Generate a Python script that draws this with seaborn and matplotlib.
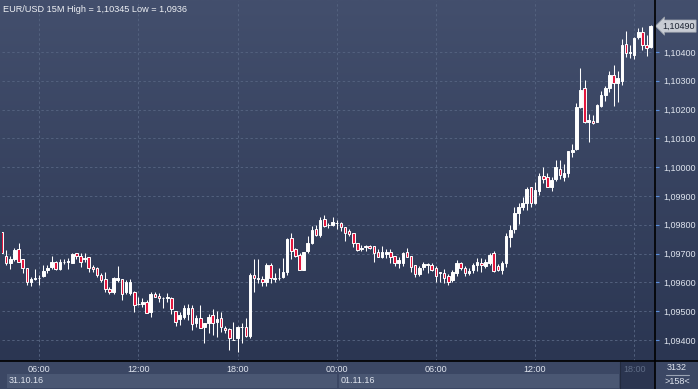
import numpy as np
import pandas as pd
import matplotlib
matplotlib.use("Agg")
import matplotlib.pyplot as plt
import matplotlib.transforms as mtransforms
from matplotlib.colors import LinearSegmentedColormap
from matplotlib.patches import Rectangle
from matplotlib.lines import Line2D
from matplotlib.ticker import FuncFormatter
import seaborn as sns

# ---------------- data (EUR/USD, 15 minute candles) ----------------
start_time = "2016-10-31 03:45"

open_ = [1.09776, 1.09692, 1.09669, 1.09680, 1.09715, 1.09680, 1.09649, 1.09603, 1.09611, 1.09614,
         1.09622, 1.09643, 1.09655, 1.09670, 1.09645, 1.09670, 1.09670, 1.09669, 1.09701, 1.09692,
         1.09680, 1.09689, 1.09655, 1.09649, 1.09626, 1.09611, 1.09576, 1.09565, 1.09608, 1.09611,
         1.09565, 1.09562, 1.09568, 1.09524, 1.09525, 1.09533, 1.09498, 1.09559, 1.09553, 1.09545,
         1.09545, 1.09545, 1.09502, 1.09472, 1.09479, 1.09490, 1.09510, 1.09460, 1.09475, 1.09444,
         1.09460, 1.09487, 1.09464, 1.09475, 1.09441, 1.09437, 1.09400, 1.09406, 1.09444, 1.09444,
         1.09414, 1.09626, 1.09611, 1.09611, 1.09603, 1.09660, 1.09611, 1.09614, 1.09620, 1.09637,
         1.09753, 1.09715, 1.09695, 1.09643, 1.09710, 1.09738, 1.09784, 1.09765, 1.09819, 1.09798,
         1.09799, 1.09807, 1.09805, 1.09791, 1.09780, 1.09770, 1.09738, 1.09715, 1.09724, 1.09728,
         1.09726, 1.09707, 1.09689, 1.09699, 1.09707, 1.09692, 1.09669, 1.09669, 1.09707, 1.09692,
         1.09660, 1.09629, 1.09655, 1.09660, 1.09660, 1.09649, 1.09634, 1.09634, 1.09622, 1.09608,
         1.09634, 1.09669, 1.09649, 1.09631, 1.09643, 1.09660, 1.09669, 1.09657, 1.09669, 1.09703,
         1.09657, 1.09643, 1.09669, 1.09759, 1.09784, 1.09842, 1.09863, 1.09877, 1.09930, 1.09875,
         1.09919, 1.09969, 1.09965, 1.09933, 1.09958, 1.09993, 1.09967, 1.09979, 1.10054, 1.10062,
         1.10208, 1.10274, 1.10158, 1.10162, 1.10158, 1.10213, 1.10251, 1.10274, 1.10320, 1.10294,
         1.10300, 1.10428, 1.10395, 1.10390, 1.10453, 1.10471, 1.10424, 1.10416]

high = [1.09776, 1.09713, 1.09692, 1.09718, 1.09738, 1.09680, 1.09649, 1.09620, 1.09645, 1.09626,
        1.09660, 1.09660, 1.09690, 1.09676, 1.09680, 1.09680, 1.09684, 1.09703, 1.09701, 1.09703,
        1.09701, 1.09689, 1.09660, 1.09652, 1.09634, 1.09637, 1.09585, 1.09618, 1.09657, 1.09611,
        1.09608, 1.09611, 1.09571, 1.09550, 1.09545, 1.09539, 1.09568, 1.09568, 1.09564, 1.09550,
        1.09564, 1.09548, 1.09502, 1.09498, 1.09522, 1.09525, 1.09522, 1.09487, 1.09522, 1.09460,
        1.09490, 1.09507, 1.09502, 1.09498, 1.09449, 1.09441, 1.09464, 1.09449, 1.09460, 1.09475,
        1.09634, 1.09680, 1.09680, 1.09622, 1.09669, 1.09669, 1.09634, 1.09649, 1.09684, 1.09753,
        1.09770, 1.09718, 1.09701, 1.09707, 1.09761, 1.09796, 1.09799, 1.09828, 1.09834, 1.09807,
        1.09828, 1.09817, 1.09811, 1.09791, 1.09784, 1.09770, 1.09738, 1.09730, 1.09730, 1.09730,
        1.09726, 1.09715, 1.09726, 1.09715, 1.09715, 1.09692, 1.09687, 1.09707, 1.09718, 1.09692,
        1.09660, 1.09657, 1.09672, 1.09669, 1.09669, 1.09657, 1.09637, 1.09645, 1.09629, 1.09643,
        1.09678, 1.09672, 1.09657, 1.09649, 1.09666, 1.09684, 1.09684, 1.09680, 1.09701, 1.09710,
        1.09664, 1.09676, 1.09770, 1.09799, 1.09861, 1.09877, 1.09898, 1.09933, 1.09933, 1.09950,
        1.09979, 1.10002, 1.09979, 1.09967, 1.10025, 1.10025, 1.10011, 1.10058, 1.10081, 1.10222,
        1.10343, 1.10303, 1.10185, 1.10181, 1.10220, 1.10266, 1.10282, 1.10335, 1.10355, 1.10335,
        1.10444, 1.10474, 1.10424, 1.10451, 1.10482, 1.10486, 1.10459, 1.10494]

low = [1.09701, 1.09660, 1.09645, 1.09676, 1.09672, 1.09634, 1.09591, 1.09589, 1.09608, 1.09591,
       1.09620, 1.09634, 1.09645, 1.09643, 1.09643, 1.09664, 1.09645, 1.09666, 1.09680, 1.09655,
       1.09672, 1.09637, 1.09637, 1.09620, 1.09603, 1.09568, 1.09560, 1.09560, 1.09603, 1.09539,
       1.09560, 1.09556, 1.09498, 1.09522, 1.09514, 1.09493, 1.09479, 1.09548, 1.09533, 1.09510,
       1.09533, 1.09490, 1.09449, 1.09452, 1.09472, 1.09469, 1.09435, 1.09446, 1.09441, 1.09391,
       1.09423, 1.09417, 1.09409, 1.09429, 1.09423, 1.09365, 1.09400, 1.09359, 1.09391, 1.09409,
       1.09406, 1.09568, 1.09597, 1.09588, 1.09588, 1.09597, 1.09603, 1.09608, 1.09614, 1.09626,
       1.09680, 1.09687, 1.09643, 1.09643, 1.09703, 1.09733, 1.09761, 1.09759, 1.09794, 1.09788,
       1.09796, 1.09784, 1.09780, 1.09745, 1.09761, 1.09724, 1.09710, 1.09710, 1.09710, 1.09715,
       1.09672, 1.09687, 1.09684, 1.09684, 1.09666, 1.09657, 1.09649, 1.09657, 1.09687, 1.09637,
       1.09620, 1.09622, 1.09643, 1.09634, 1.09641, 1.09603, 1.09603, 1.09599, 1.09591, 1.09603,
       1.09622, 1.09643, 1.09622, 1.09626, 1.09634, 1.09641, 1.09637, 1.09649, 1.09660, 1.09637,
       1.09641, 1.09629, 1.09655, 1.09724, 1.09771, 1.09803, 1.09850, 1.09850, 1.09861, 1.09872,
       1.09904, 1.09944, 1.09930, 1.09919, 1.09953, 1.09958, 1.09953, 1.09965, 1.10037, 1.10060,
       1.10204, 1.10152, 1.10089, 1.10150, 1.10158, 1.10208, 1.10231, 1.10262, 1.10212, 1.10227,
       1.10285, 1.10381, 1.10378, 1.10375, 1.10444, 1.10407, 1.10386, 1.10413]

close = [1.09701, 1.09669, 1.09680, 1.09713, 1.09672, 1.09649, 1.09603, 1.09611, 1.09614, 1.09615,
         1.09641, 1.09649, 1.09670, 1.09645, 1.09672, 1.09671, 1.09676, 1.09698, 1.09692, 1.09672,
         1.09684, 1.09649, 1.09645, 1.09626, 1.09608, 1.09576, 1.09565, 1.09614, 1.09614, 1.09560,
         1.09603, 1.09603, 1.09522, 1.09525, 1.09533, 1.09495, 1.09560, 1.09550, 1.09545, 1.09546,
         1.09548, 1.09507, 1.09464, 1.09487, 1.09510, 1.09510, 1.09456, 1.09475, 1.09441, 1.09460,
         1.09479, 1.09460, 1.09472, 1.09444, 1.09435, 1.09406, 1.09401, 1.09444, 1.09445, 1.09414,
         1.09626, 1.09614, 1.09614, 1.09603, 1.09660, 1.09614, 1.09615, 1.09615, 1.09637, 1.09750,
         1.09710, 1.09692, 1.09643, 1.09707, 1.09736, 1.09782, 1.09765, 1.09817, 1.09796, 1.09800,
         1.09811, 1.09806, 1.09791, 1.09773, 1.09768, 1.09738, 1.09713, 1.09718, 1.09726, 1.09718,
         1.09703, 1.09689, 1.09707, 1.09707, 1.09689, 1.09669, 1.09678, 1.09703, 1.09689, 1.09655,
         1.09629, 1.09649, 1.09664, 1.09664, 1.09643, 1.09622, 1.09636, 1.09614, 1.09603, 1.09637,
         1.09669, 1.09649, 1.09631, 1.09641, 1.09660, 1.09672, 1.09660, 1.09672, 1.09695, 1.09641,
         1.09643, 1.09668, 1.09761, 1.09782, 1.09842, 1.09861, 1.09875, 1.09923, 1.09875, 1.09921,
         1.09969, 1.09958, 1.09933, 1.09956, 1.10002, 1.09973, 1.09981, 1.10058, 1.10060, 1.10208,
         1.10268, 1.10158, 1.10164, 1.10152, 1.10216, 1.10251, 1.10274, 1.10320, 1.10294, 1.10309,
         1.10424, 1.10398, 1.10399, 1.10447, 1.10471, 1.10424, 1.10413, 1.10490]

price_ticks = [1.094, 1.095, 1.096, 1.097, 1.098, 1.099, 1.100, 1.101, 1.102, 1.103, 1.104]
title_text = "EUR/USD 15M High = 1,10345 Low = 1,0936"
date_labels = ["31.10.16", "01.11.16"]
bars_total_text = "3132"
bars_visible_text = ">158<"

# ---------------- style ----------------
sns.set_theme(style="dark")
plt.rcParams["font.family"] = ["Liberation Sans", "DejaVu Sans"]

TXT = "#dfe4ee"
UP_COL = "#ffffff"
DN_COL = "#e3173e"

times = pd.date_range(start_time, periods=len(close), freq="15min")
df = pd.DataFrame({"time": times, "open": open_, "high": high, "low": low, "close": close})
df["pos"] = np.arange(len(df))
df["body"] = df["close"] - df["open"]
is_up = (df["close"] >= df["open"]).to_numpy()

W, H = 698, 389
fig = plt.figure(figsize=(W / 100, H / 100), dpi=100)


def X(px):
    return px / W


def Y(py):
    return 1 - py / H


# background gradient
bg = fig.add_axes([0, 0, 1, 1], zorder=0)
cmap = LinearSegmentedColormap.from_list("bg", ["#293450", "#434f6d"])
bg.imshow(np.linspace(0, 1, 256).reshape(-1, 1), cmap=cmap, aspect="auto",
          extent=[0, 1, 0, 1], origin="lower")
bg.set_axis_off()

# bottom panel and boxes
fig.add_artist(Rectangle((0, 0), 1, Y(361), transform=fig.transFigure,
                         fc="#3b4764", ec="none", zorder=1))
fig.add_artist(Rectangle((X(7), Y(388)), X(337) - X(7), Y(374) - Y(388),
                         transform=fig.transFigure, fc="#4a5773", ec="none", zorder=1))
fig.add_artist(Rectangle((X(339), Y(388)), X(619) - X(339), Y(374) - Y(388),
                         transform=fig.transFigure, fc="#4a5773", ec="none", zorder=1))
fig.add_artist(Rectangle((X(620), 0), X(655) - X(620), Y(362),
                         transform=fig.transFigure, fc="#2b3550", ec="none", zorder=1))
fig.add_artist(Line2D([X(619.5)] * 2, [0, Y(362)], transform=fig.transFigure,
                      color="#222a3e", lw=0.8, zorder=1))

# main axes
ax = fig.add_axes([X(1.5), Y(361), X(655) - X(1.5), Y(1) - Y(361)], zorder=2)
ax.patch.set_alpha(0)

ax.vlines(df["pos"], df["low"], df["high"], colors="white", lw=0.75, zorder=2)
sns.barplot(data=df, x="pos", y="body", bottom=df["open"].to_numpy(), native_scale=True,
            width=0.62, color=UP_COL, saturation=1, errorbar=None,
            edgecolor="white", linewidth=0.7, ax=ax, zorder=3)
for patch, up in zip(ax.patches, is_up):
    patch.set_facecolor(UP_COL if up else DN_COL)

ax.set_xlim(-0.12, 158.03)
ax.set_ylim(1.093271, 1.105771)
ax.set_xlabel("")
ax.set_ylabel("")

tick_mask = (df["time"].dt.minute == 0) & (df["time"].dt.hour % 6 == 0)
tick_pos = df.loc[tick_mask, "pos"].to_numpy()
tick_lab = df.loc[tick_mask, "time"].dt.strftime("%H:%M").tolist()
ax.set_xticks(tick_pos)
ax.set_xticklabels(tick_lab)
ax.tick_params(axis="x", length=0, pad=3.2, labelsize=6.5, labelcolor=TXT)
ax.get_xticklabels()[-1].set_color("#5f6c86")

ax.yaxis.tick_right()
ax.set_yticks(price_ticks)
ax.yaxis.set_major_formatter(FuncFormatter(lambda v, p: f"{v:.5f}".replace(".", ",")))
ax.tick_params(axis="y", right=True, left=False, length=3, width=0.8, color="#5b8fdc",
               pad=3.2, labelsize=6.5, labelcolor=TXT, direction="out")

ax.grid(True, color="#53617e", linestyle=(0, (2.5, 2.5)), linewidth=0.7)
ax.set_axisbelow(True)
for s in ax.spines.values():
    s.set_visible(False)

# frame lines
fig.add_artist(Line2D([0, 1], [Y(361)] * 2, transform=fig.transFigure,
                      color="black", lw=1.2, zorder=4))
fig.add_artist(Line2D([X(655)] * 2, [0, 1], transform=fig.transFigure,
                      color="black", lw=1.2, zorder=4))

# texts
fig.text(X(3), Y(9.5), title_text, ha="left", va="center", fontsize=6.6, color="#eef0f4", zorder=5)
fig.text(X(9), Y(380.5), date_labels[0], ha="left", va="center", fontsize=6.5, color=TXT, zorder=5)
fig.text(X(341), Y(380.5), date_labels[1], ha="left", va="center", fontsize=6.5, color=TXT, zorder=5)
fig.text(X(677), Y(368), bars_total_text, ha="center", va="center", fontsize=6.5, color=TXT, zorder=5)
fig.add_artist(Line2D([X(666), X(689)], [Y(374.5)] * 2, transform=fig.transFigure,
                      color="#9aa3b3", lw=0.8, zorder=5))
fig.text(X(677), Y(381.5), bars_visible_text, ha="center", va="center", fontsize=6.5, color=TXT, zorder=5)

# last price tag
tr = mtransforms.blended_transform_factory(ax.transAxes, ax.transData)
tr_off = mtransforms.offset_copy(tr, fig=fig, x=7, y=0, units="dots")
ax.text(1, close[-1], f"{close[-1]:.5f}".replace(".", ","), transform=tr_off,
        ha="left", va="center", fontsize=6.5, color="#1d2433", clip_on=False, zorder=6,
        bbox=dict(boxstyle="larrow,pad=0.18", fc="#c8ccd4", ec="#9aa0aa", lw=0.5))

fig.savefig("out.png", dpi=100)
